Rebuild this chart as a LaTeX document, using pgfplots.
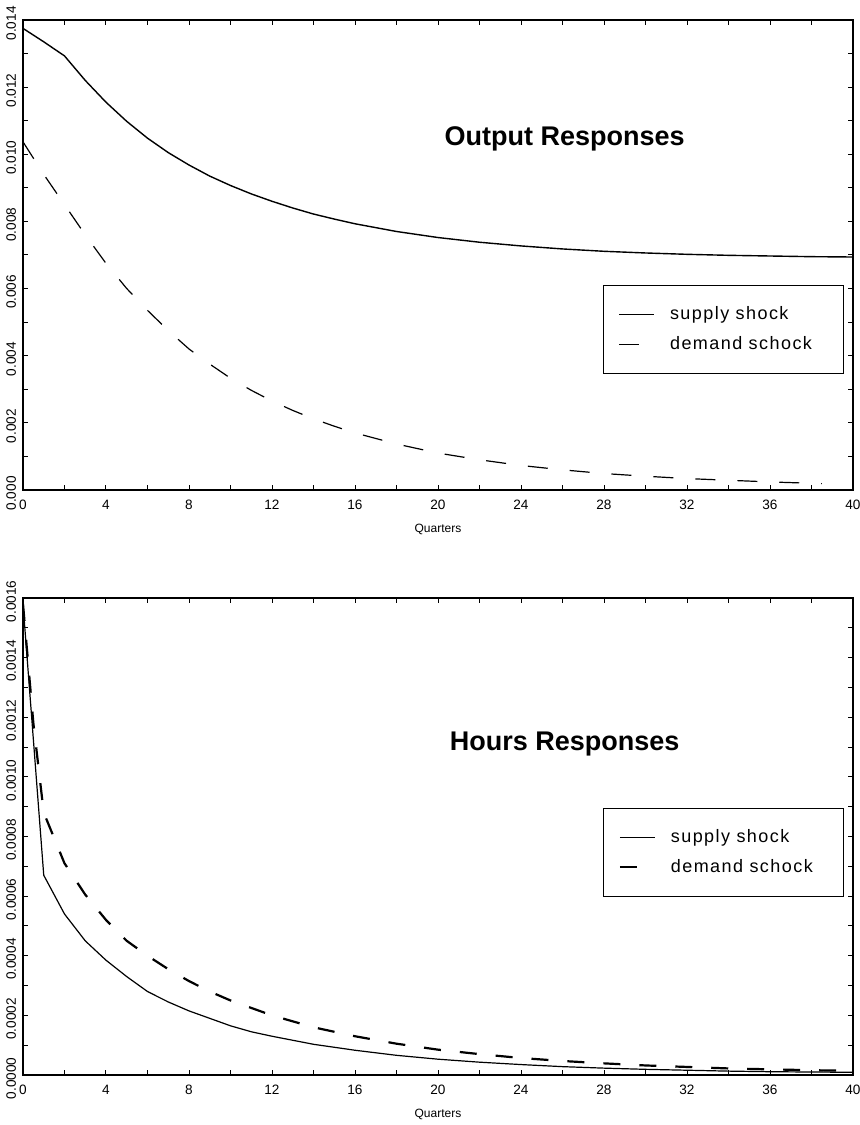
\documentclass[border=0pt]{standalone}
\usepackage{fontspec}
\setmainfont{Liberation Sans}
\newfontfamily\legfont[LetterSpace=8]{Liberation Sans}
\usepackage{pgfplots}
\pgfplotsset{compat=1.18}

\pgfplotstableread{
q v
0 0.01375
1 0.01335
2 0.01293
3 0.01220
4 0.01155
5 0.01098
6 0.01048
7 0.01005
8 0.00968
9 0.00935
10 0.00907
11 0.00882
12 0.00860
13 0.00840
14 0.00822
15 0.00807
16 0.00793
18 0.00770
20 0.00752
22 0.00738
24 0.00727
26 0.00718
28 0.00711
30 0.00706
32 0.00702
34 0.00699
36 0.00697
38 0.00695
40 0.00694
}\outsupply

\pgfplotstableread{
q v
0 0.01037
1 0.00940
2 0.00850
3 0.00760
4 0.00675
5 0.00600
6 0.00535
7 0.00475
8 0.00420
9 0.00375
10 0.00333
11 0.00297
12 0.00265
13 0.00237
14 0.00212
15 0.00190
16 0.00170
18 0.00137
20 0.00110
22 0.00090
24 0.00073
26 0.00060
28 0.00049
30 0.00041
32 0.00034
34 0.00029
36 0.00024
38 0.00020
38.5 0.00019
}\outdemand

\pgfplotstableread{
q v
0 0.00158
1 0.00067
2 0.00054
3 0.00045
4 0.000385
5 0.00033
6 0.00028
7 0.000245
8 0.000215
9 0.00019
10 0.000165
11 0.000145
12 0.00013
14 0.000103
16 0.000083
18 0.000066
20 0.000053
22 0.000043
24 0.000035
26 0.000028
28 0.000023
30 0.000019
32 0.000016
34 0.000013
36 0.000011
38 0.00001
40 0.000009
}\hrssupply

\pgfplotstableread{
q v
0 0.00158
0.5 0.00118
1 0.00088
2 0.00071
3 0.000605
4 0.00052
5 0.00045
6 0.00040
7 0.000355
8 0.000315
9 0.00028
10 0.00025
11 0.000225
12 0.00020
14 0.00016
16 0.00013
18 0.000105
20 0.000085
22 0.00007
24 0.000057
26 0.000047
28 0.000039
30 0.000032
32 0.000027
34 0.000022
36 0.000019
38 0.000016
40 0.000014
}\hrsdemand

\pgfplotsset{
 irf/.style={
  scale only axis, width=415pt,
  xmin=0, xmax=40,
  xtick={0,4,...,40},
  xticklabels={0,4,8,12,16,20,24,28,32,36,40},
  minor x tick num=1, minor y tick num=1,
  tick align=inside,
  major tick length=2.5pt, minor tick length=2.5pt,
  tick style={black, line width=0.5pt},
  axis line style={line width=1.2pt},
  tick label style={font=\fontsize{6.8}{8}\selectfont},
  yticklabel style={rotate=90, anchor=south, xshift=-1.7pt},
  xticklabel style={yshift=-1.7pt},
  xlabel={Quarters},
  xlabel style={font=\fontsize{6}{7}\selectfont},
  scaled y ticks=false,
  legend cell align=left,
  legend image code/.code={\draw[##1] (0pt,0pt) -- (17.5pt,0pt);},
  legend style={draw=black, line width=0.5pt, anchor=north west,
    inner xsep=7.5pt, inner ysep=10pt, row sep=6pt, column sep=7.5pt,
    nodes={inner sep=0pt, text height=7pt, text depth=2pt},
    font=\legfont\fontsize{9}{11}\selectfont},
 },
}

\begin{document}
\begin{tikzpicture}
\path[use as bounding box] (0,0) rectangle (430pt,562.5pt);

\begin{axis}[irf, at={(11.5pt,317.5pt)}, anchor=south west, height=235pt,
  ymin=0, ymax=0.014,
  ytick={0,0.002,0.004,0.006,0.008,0.010,0.012,0.014},
  yticklabels={0.000,0.002,0.004,0.006,0.008,0.010,0.012,0.014},
  legend style={at={(0.699,0.436)}}]
\addplot[black, line width=0.7pt] table[x=q,y=v] {\outsupply};
\addlegendentry{\makebox[79pt][l]{supply shock}}
\addplot[black, line width=0.6pt, dash pattern=on 10pt off 11pt] table[x=q,y=v] {\outdemand};
\addlegendentry{\makebox[79pt][l]{demand schock}}
\node[font=\fontsize{13.5}{16}\selectfont\bfseries] at (axis cs:26.1,0.01046) {Output Responses};
\end{axis}

\begin{axis}[irf, at={(11.5pt,25pt)}, anchor=south west, height=238.5pt,
  ymin=0, ymax=0.0016,
  ytick={0,0.0002,0.0004,0.0006,0.0008,0.0010,0.0012,0.0014,0.0016},
  yticklabels={0.0000,0.0002,0.0004,0.0006,0.0008,0.0010,0.0012,0.0014,0.0016},
  legend style={at={(0.699,0.56)}}]
\addplot[black, line width=0.6pt] table[x=q,y=v] {\hrssupply};
\addlegendentry{\makebox[79pt][l]{supply shock}}
\addplot[black, line width=1.1pt, dash pattern=on 8.5pt off 9.5pt] table[x=q,y=v] {\hrsdemand};
\addlegendentry{\makebox[79pt][l]{demand schock}}
\node[font=\fontsize{13.5}{16}\selectfont\bfseries] at (axis cs:26.1,0.00111) {Hours Responses};
\end{axis}
\end{tikzpicture}
\end{document}
